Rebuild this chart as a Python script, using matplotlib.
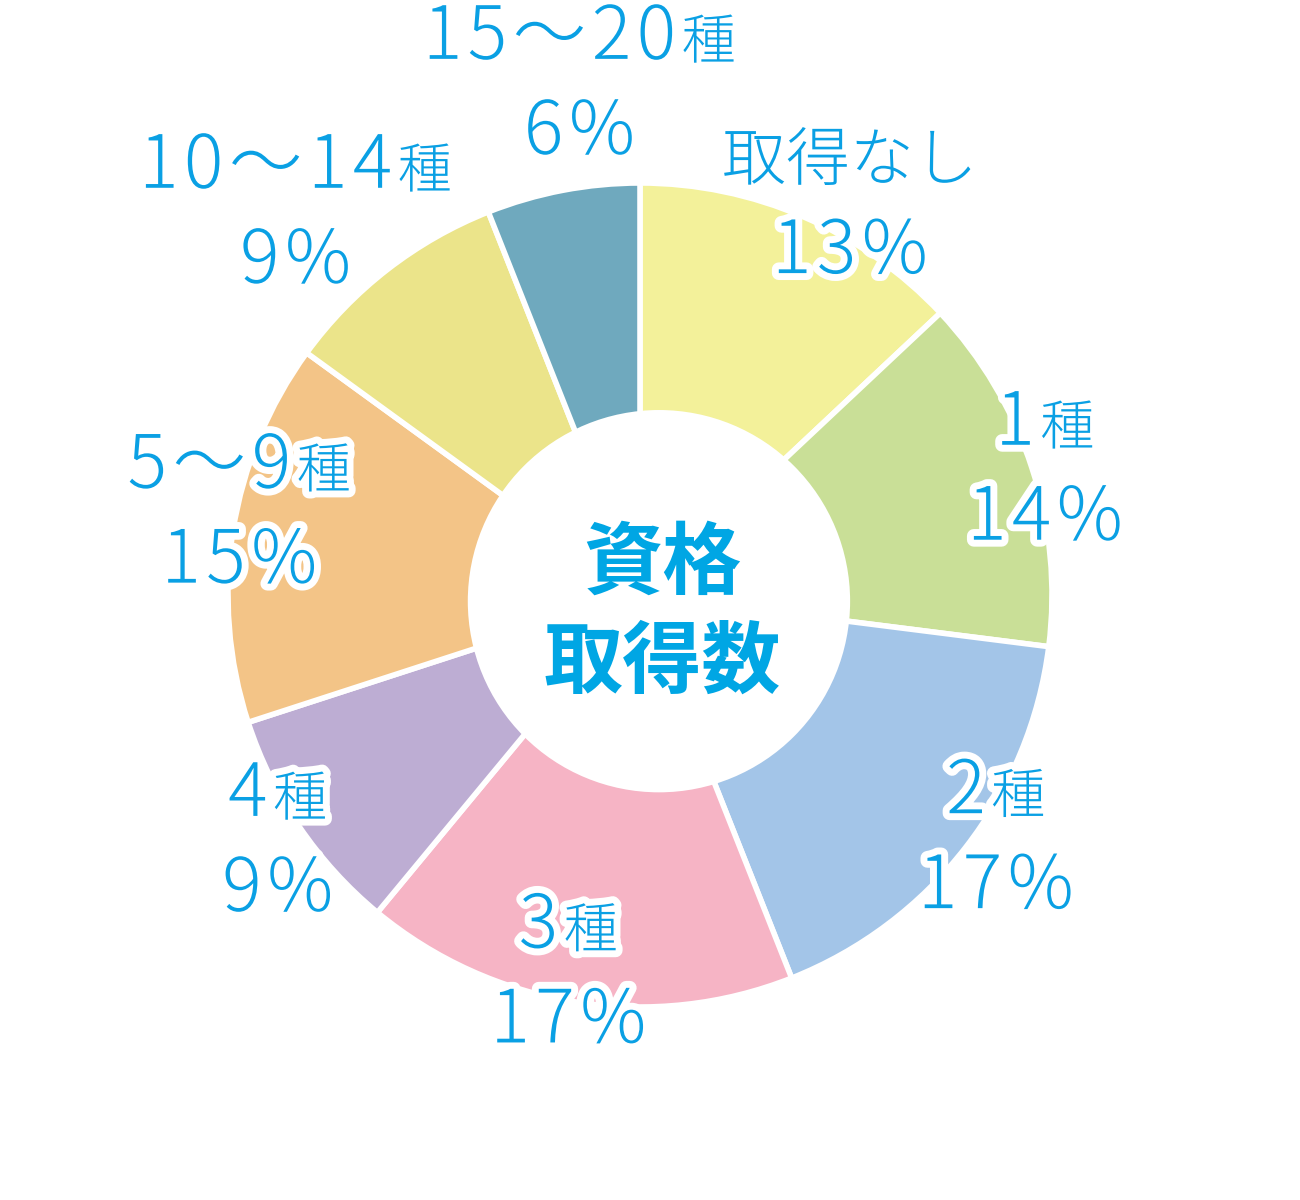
import numpy as np
import matplotlib
matplotlib.use('Agg')
import matplotlib.pyplot as plt
import matplotlib.patheffects as pe

from matplotlib.patches import Circle
from matplotlib.offsetbox import TextArea, HPacker, VPacker, AnnotationBbox

# Data
CATEGORIES = ['取得なし', '1種', '2種', '3種', '4種', '5～9種', '10～14種', '15～20種']
SHARES = [13, 14, 17, 17, 9, 15, 9, 6]
COLORS = ['#F3F19A', '#C9DF97', '#A3C5E8', '#F6B4C5',
          '#BDADD3', '#F3C487', '#EBE48A', '#6FA9BE']
CENTER_TITLE = '資格\n取得数'

# Label layout: radius (in ring radii) and clockwise nudge from wedge middle
LABEL_RADIUS = [1.064, 1.027, 1.049, 0.938, 1.066, 0.992, 1.245, 1.244]
LABEL_NUDGE = [5.2, 1.1, -3.2, 1.7, -0.2, 2.3, -4.4, 4.0]

FONT = ['Noto Sans CJK JP', 'DejaVu Sans']
BLUE = '#0AA0E4'
PX = 412  # pixels per ring radius


def spaced(text, props, track=4):
    # one TextArea per glyph so the digits get a bit of tracking
    boxes = [TextArea(ch, textprops=props) for ch in text]
    return HPacker(children=boxes, align='baseline', pad=0, sep=track)


def make_label(category, share):
    stroke = [pe.withStroke(linewidth=10, foreground='white', joinstyle='round')]
    big = dict(fontsize=53, color=BLUE, family=FONT, fontweight='light',
               path_effects=stroke)
    small = dict(fontsize=39, color=BLUE, family=FONT, fontweight='light',
                 path_effects=stroke)
    kana = dict(big, fontsize=46)

    if category.endswith('種'):
        parts = [spaced(category[:-1], big),
                 TextArea(category[-1], textprops=small)]
    else:
        parts = [TextArea(category, textprops=kana)]
    first = HPacker(children=parts, align='baseline', pad=0, sep=4)
    second = spaced(f'{share}%', big)
    return VPacker(children=[first, second], align='center', pad=0, sep=14)


def main():
    plt.rcParams['font.family'] = FONT

    fig = plt.figure(figsize=(13, 12), dpi=100)
    ax = fig.add_axes([0, 0, 1, 1])

    wedges, _ = ax.pie(
        SHARES,
        colors=COLORS,
        startangle=90,
        counterclock=False,
        radius=1,
        wedgeprops=dict(edgecolor='white', linewidth=4),
    )

    # Inner hole (sits a little right of the ring centre in the original)
    ax.add_patch(Circle((0.046, -0.015), 0.464, facecolor='white',
                        edgecolor='none', zorder=3))
    ax.text(0.053, -0.045, CENTER_TITLE, ha='center', va='center',
            fontsize=57, fontweight='bold', color='#00A6E4',
            linespacing=1.28, zorder=4)

    # Labels
    for w, cat, share, r, nudge in zip(wedges, CATEGORIES, SHARES,
                                       LABEL_RADIUS, LABEL_NUDGE):
        mid = np.deg2rad((w.theta1 + w.theta2) / 2 - nudge)
        ab = AnnotationBbox(
            make_label(cat, share),
            (r * np.cos(mid), r * np.sin(mid)),
            xycoords='data',
            frameon=False,
            box_alignment=(0.5, 0.5),
            pad=0,
            zorder=5,
        )
        ax.add_artist(ab)

    ax.set_xlim(-640 / PX, 660 / PX)
    ax.set_ylim(-605 / PX, 595 / PX)
    ax.set_aspect('equal')
    ax.axis('off')

    fig.savefig('out.png', dpi=100, facecolor='white')


if __name__ == '__main__':
    main()
